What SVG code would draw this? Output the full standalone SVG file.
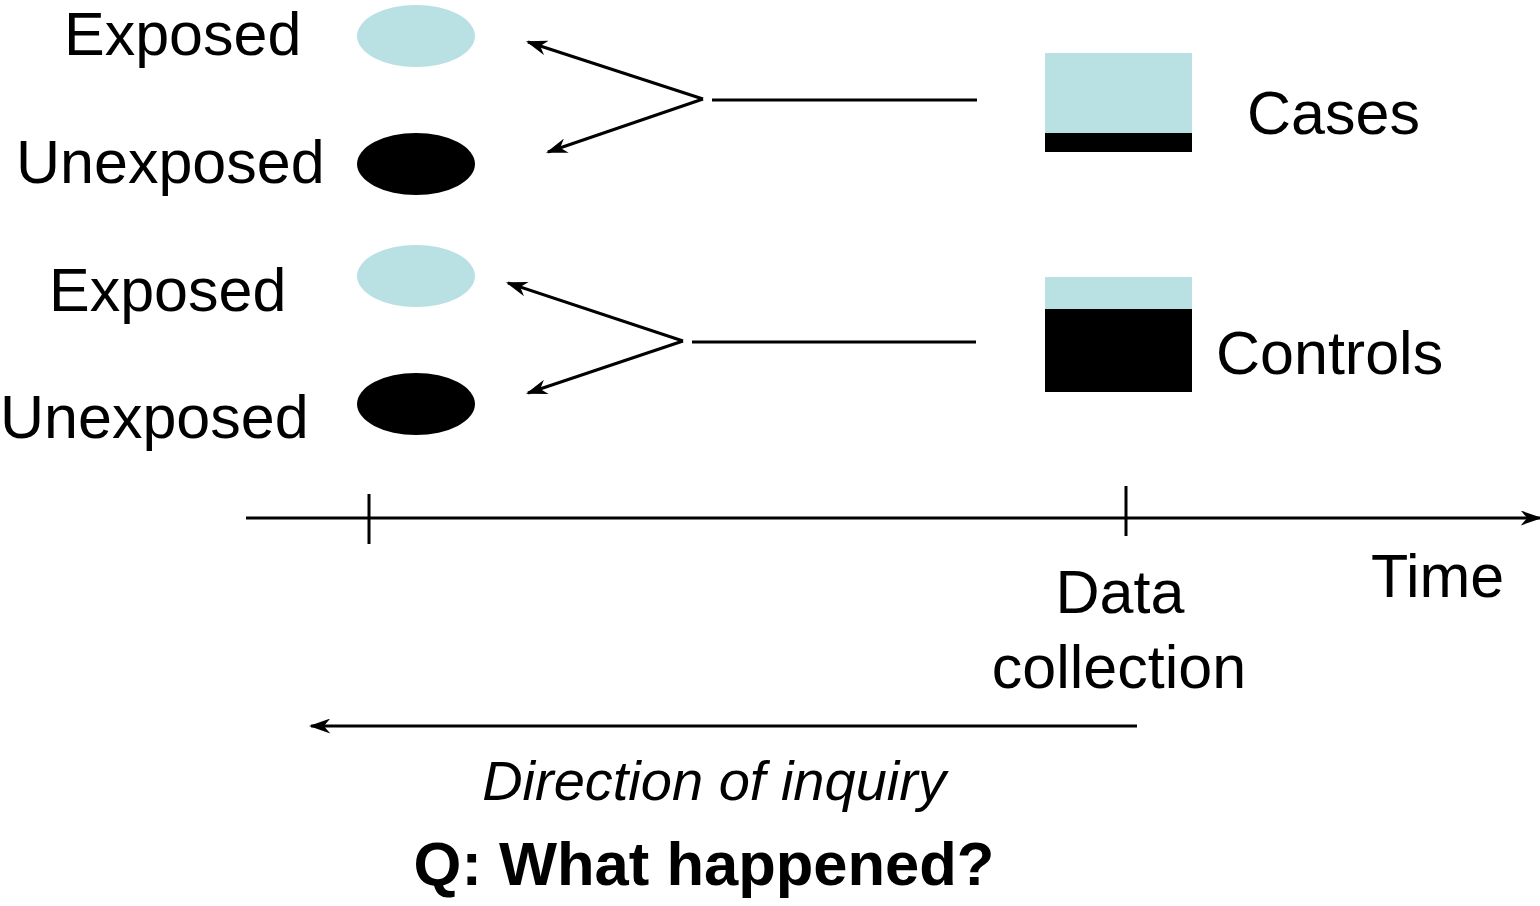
<svg xmlns="http://www.w3.org/2000/svg" width="1540" height="906" viewBox="0 0 1540 906">
<defs>
<style>
.t{font-family:"Liberation Sans",Arial,sans-serif;font-size:61px;fill:#000}
.it{font-style:italic;font-size:56px}
.q{font-weight:bold;font-size:61.5px}
.ln{stroke:#000;stroke-width:3;fill:none}
.exp{fill:#b9e0e3}
.unx{fill:#000}
</style>
<marker id="ah" viewBox="0 0 20 14" refX="18" refY="7" markerWidth="22" markerHeight="15" markerUnits="userSpaceOnUse" orient="auto">
<path d="M0,0 L20,7 L0,14 L6,7 Z" fill="#000"/>
</marker>
</defs>
<rect width="1540" height="906" fill="#fff"/>
<g id="labels">
<text class="t" x="64" y="55">Exposed</text>
<text class="t" x="16" y="183">Unexposed</text>
<text class="t" x="49" y="311">Exposed</text>
<text class="t" x="0" y="438">Unexposed</text>
</g>
<g id="case-exposed"><ellipse class="exp" cx="416" cy="36" rx="59" ry="31"/></g>
<g id="case-unexposed"><ellipse class="unx" cx="416" cy="164" rx="59" ry="31"/></g>
<g id="control-exposed"><ellipse class="exp" cx="416" cy="276" rx="59" ry="31"/></g>
<g id="control-unexposed"><ellipse class="unx" cx="416" cy="404" rx="59" ry="31"/></g>
<g id="cases">
<rect class="exp" x="1045" y="53" width="147" height="80"/>
<rect class="unx" x="1045" y="133" width="147" height="19"/>
<text class="t" x="1247" y="134">Cases</text>
</g>
<g id="controls">
<rect class="exp" x="1045" y="277" width="147" height="32"/>
<rect class="unx" x="1045" y="309" width="147" height="83"/>
<text class="t" x="1216" y="374">Controls</text>
</g>
<g id="connectors">
<line class="ln" x1="703" y1="99" x2="528" y2="42" marker-end="url(#ah)"/>
<line class="ln" x1="703" y1="99" x2="548" y2="152" marker-end="url(#ah)"/>
<line class="ln" x1="712" y1="100" x2="977" y2="100"/>
<line class="ln" x1="683" y1="341" x2="508" y2="283" marker-end="url(#ah)"/>
<line class="ln" x1="683" y1="341" x2="528" y2="393" marker-end="url(#ah)"/>
<line class="ln" x1="692" y1="342" x2="976" y2="342"/>
<line class="ln" x1="246" y1="518" x2="1540" y2="518" marker-end="url(#ah)"/>
<line class="ln" x1="369" y1="494" x2="369" y2="544"/>
<line class="ln" x1="1126" y1="486" x2="1126" y2="536"/>
<line class="ln" x1="1137" y1="726" x2="311" y2="726" marker-end="url(#ah)"/>
</g>
<g id="axis-labels">
<text class="t" x="1120" y="613" text-anchor="middle">Data</text>
<text class="t" x="1119" y="688" text-anchor="middle">collection</text>
<text class="t" x="1371" y="597">Time</text>
<text class="t it" x="714" y="800" text-anchor="middle">Direction of inquiry</text>
<text class="t q" x="704" y="885" text-anchor="middle">Q: What happened?</text>
</g>
</svg>
